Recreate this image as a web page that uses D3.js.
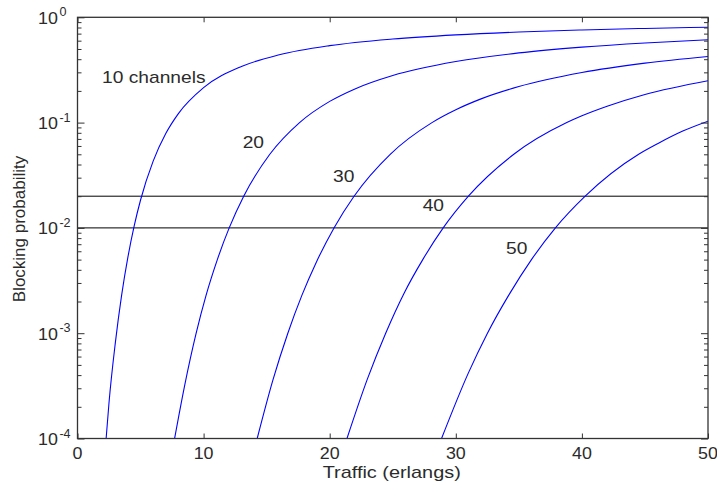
<!DOCTYPE html>
<html lang="en">
<head>
<meta charset="UTF-8">
<title>Erlang B blocking probability</title>
<script src="https://d3js.org/d3.v7.min.js"></script>
<style>
  body { margin: 0; background: #fff; }
  text { font-family: "Liberation Sans", Arial, sans-serif; fill: #2b2b2b; }
  .curve { fill: none; stroke: #0000ff; stroke-width: 1.1; }
  .ref { stroke: #000; stroke-width: 1; }
  .tick line { stroke: #333; stroke-width: 1; }
  .domain { display: none; }
</style>
</head>
<body>
<svg width="717" height="485"></svg>
<script>
// values
const channelLabels = ["10 channels", "20", "30", "40", "50"];

const traffic10 = [2.27, 2.5, 3, 3.5, 4, 4.5, 5, 6, 7, 8, 10, 13, 16, 20, 25, 30, 35, 40, 45, 50];
const block10   = [1e-4, 2.2e-4, 8.1e-4, 2.3e-3, 5.3e-3, 0.0105, 0.0184, 0.0431, 0.0787, 0.1217, 0.2146, 0.341, 0.4406, 0.538, 0.622, 0.681, 0.725, 0.758, 0.784, 0.805];

const traffic20 = [7.7, 8.5, 9.41, 10.2, 11.09, 12.03, 13.18, 15.25, 17.61, 20, 22, 25, 30, 35, 40, 45, 50];
const block20   = [1e-4, 3.2e-4, 1e-3, 2.3e-3, 5e-3, 0.01, 0.02, 0.05, 0.1, 0.159, 0.209, 0.280, 0.380, 0.459, 0.521, 0.571, 0.612];

const traffic30 = [14.25, 15.5, 16.68, 17.8, 18.93, 20.34, 21.93, 24.8, 28.11, 30, 32, 35, 40, 45, 50];
const block30   = [1e-4, 3.6e-4, 1e-3, 2.3e-3, 4.7e-3, 0.01, 0.02, 0.05, 0.1, 0.1325, 0.168, 0.220, 0.299, 0.367, 0.425];

const traffic40 = [21.37, 23, 24.44, 25.9, 27.38, 29.0, 31.0, 34.6, 38.8, 40, 42, 45, 50];
const block40   = [1e-4, 3.7e-4, 1e-3, 2.4e-3, 5e-3, 0.01, 0.02, 0.05, 0.1, 0.116, 0.143, 0.185, 0.250];

const traffic50 = [28.87, 31, 32.51, 34.2, 36.0, 37.9, 40.26, 44.5, 46, 48, 50];
const block50   = [1e-4, 4.2e-4, 1e-3, 2.3e-3, 5e-3, 0.01, 0.02, 0.05, 0.063, 0.083, 0.103];

const thresholds = [0.02, 0.01];
const xTicks = [0, 10, 20, 30, 40, 50];
const yTickExp = [0, -1, -2, -3, -4];

const series = [
  {traffic: traffic10, block: block10},
  {traffic: traffic20, block: block20},
  {traffic: traffic30, block: block30},
  {traffic: traffic40, block: block40},
  {traffic: traffic50, block: block50}
];
// where each curve's label sits (traffic, probability at baseline)
const labelAt = [[1.95, 0.24], [13.1, 0.0578], [20.26, 0.0272], [27.37, 0.0145], [33.98, 0.00566]];

const svg = d3.select("svg");
const x = d3.scaleLinear().domain([0, 50]).range([77.5, 708]);
const y = d3.scaleLog().domain([1e-4, 1]).range([438.5, 17.3]);

svg.append("clipPath").attr("id", "plot")
  .append("rect")
  .attr("x", x(0)).attr("y", y(1))
  .attr("width", x(50) - x(0)).attr("height", y(1e-4) - y(1));

// helper for horizontally stretched text like the original
function label(g, px, py, str, size, sx, anchor) {
  return g.append("text")
    .attr("transform", `translate(${px},${py}) scale(${sx},1)`)
    .attr("text-anchor", anchor || "start")
    .style("font-size", size + "px")
    .text(str);
}

// reference lines
svg.selectAll(".ref").data(thresholds).enter().append("line")
  .attr("class", "ref")
  .attr("x1", x(0)).attr("x2", x(50))
  .attr("y1", d => y(d)).attr("y2", d => y(d));

// curves
const line = d3.line()
  .x(d => x(d[0]))
  .y(d => y(d[1]))
  .curve(d3.curveMonotoneX);

svg.append("g").attr("clip-path", "url(#plot)")
  .selectAll("path").data(series).enter().append("path")
  .attr("class", "curve")
  .attr("d", s => line(s.traffic.map((t, i) => [t, s.block[i]])));

// axes (ticks point inward, box all round)
const majors = yTickExp.map(e => Math.pow(10, e));
const minors = y.ticks().filter(v => !majors.some(m => Math.abs(m - v) / m < 1e-6));

svg.append("g").attr("transform", `translate(0,${y(1e-4)})`)
  .call(d3.axisBottom(x).tickValues(xTicks).tickSize(-5).tickFormat(""));
svg.append("g").attr("transform", `translate(0,${y(1)})`)
  .call(d3.axisTop(x).tickValues(xTicks).tickSize(-5).tickFormat(""));
svg.append("g").attr("transform", `translate(${x(0)},0)`)
  .call(d3.axisLeft(y).tickValues(majors).tickSize(-7).tickFormat(""));
svg.append("g").attr("transform", `translate(${x(0)},0)`)
  .call(d3.axisLeft(y).tickValues(minors).tickSize(-4).tickFormat(""));
svg.append("g").attr("transform", `translate(${x(50)},0)`)
  .call(d3.axisRight(y).tickValues(majors).tickSize(-7).tickFormat(""));
svg.append("g").attr("transform", `translate(${x(50)},0)`)
  .call(d3.axisRight(y).tickValues(minors).tickSize(-4).tickFormat(""));

svg.append("rect")
  .attr("x", x(0)).attr("y", y(1))
  .attr("width", x(50) - x(0)).attr("height", y(1e-4) - y(1))
  .attr("fill", "none").attr("stroke", "#333").attr("stroke-width", 1.3);

// tick labels
xTicks.forEach(v => label(svg, x(v), 459, String(v), 17, 1.05, "middle"));

yTickExp.forEach(e => {
  const t = label(svg, 38, y(Math.pow(10, e)) + 6.5, "10", 17, 1.05, "start");
  t.append("tspan")
    .attr("dx", 1.5).attr("dy", -7.5)
    .style("font-size", "12px")
    .text(e === 0 ? "0" : "-" + Math.abs(e));
});

// titles
label(svg, 391.7, 478, "Traffic (erlangs)", 17, 1.17, "middle");
svg.append("text")
  .attr("transform", "translate(25,229) rotate(-90)")
  .attr("text-anchor", "middle")
  .style("font-size", "17px")
  .text("Blocking probability");

// curve labels
channelLabels.forEach((s, i) => {
  label(svg, x(labelAt[i][0]), y(labelAt[i][1]), s, 16, 1.2, "start");
});
</script>
</body>
</html>
